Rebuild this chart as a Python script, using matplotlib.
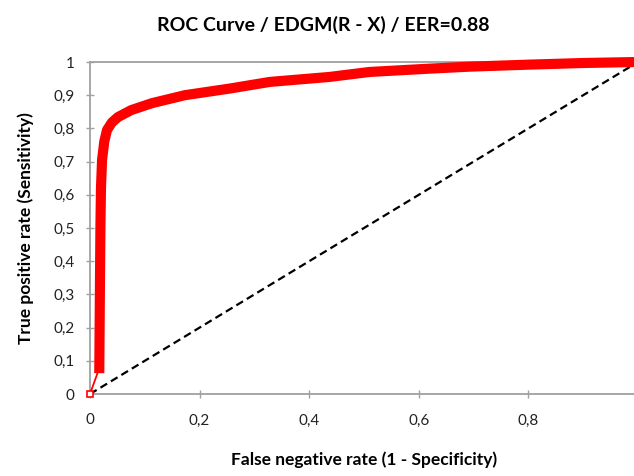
import matplotlib
matplotlib.use("Agg")
import matplotlib.pyplot as plt

# ROC curve points (x = 1 - specificity, y = sensitivity)
roc_x = [0.017, 0.018, 0.019, 0.020, 0.022, 0.026, 0.031, 0.040, 0.051, 0.075, 0.113,
         0.173, 0.255, 0.328, 0.437, 0.510, 0.620, 0.693, 0.800, 0.900, 1.000]
roc_y = [0.078, 0.300, 0.500, 0.620, 0.705, 0.760, 0.795, 0.818, 0.834, 0.855, 0.876,
         0.900, 0.920, 0.940, 0.955, 0.970, 0.980, 0.986, 0.992, 0.997, 1.000]
# first (thin) segment from the origin to the first threshold
start_x = [0.0, 0.017]
start_y = [0.0, 0.078]
diag = [0.0, 1.0]

x_ticks = [0, 0.2, 0.4, 0.6, 0.8]
x_labels = ["0", "0,2", "0,4", "0,6", "0,8"]
y_ticks = [i / 10 for i in range(11)]
y_labels = ["0"] + [f"0,{i}" for i in range(1, 10)] + ["1"]

RED, GRAY = "#ff0000", "#a0a0a0"
plt.rcParams["font.family"] = ["Lato", "DejaVu Sans"]

fig = plt.figure(figsize=(6.34, 4.76), dpi=100)
ax = fig.add_axes([90 / 634, 82 / 476, 548 / 634, 332 / 476])

ax.plot(diag, diag, color="black", lw=1.6, ls=(0, (3.5, 2)), zorder=2)
ax.plot(start_x, start_y, color=RED, lw=1.3, zorder=3)
ax.plot(roc_x, roc_y, color=RED, lw=7.3, solid_joinstyle="round", zorder=4, clip_on=False)
ax.plot([0], [0], marker="s", ms=5, mfc="white", mec=RED, mew=1.2, zorder=5, clip_on=False)

ax.set_xlim(0, 1)
ax.set_ylim(0, 1)
ax.set_xticks(x_ticks, x_labels)
ax.set_yticks(y_ticks, y_labels)
ax.tick_params(direction="inout", length=6, width=1, color=GRAY, labelsize=11, labelcolor="#222222")
ax.tick_params(axis="y", pad=8)
ax.tick_params(axis="x", pad=11)
for s in ["left", "bottom", "top"]:
    ax.spines[s].set_color(GRAY)
    ax.spines[s].set_linewidth(1.3)
ax.spines["right"].set_visible(False)

ax.set_xlabel("False negative rate (1 - Specificity)", fontsize=12.5, fontweight="bold", labelpad=17)
ax.set_ylabel("True positive rate (Sensitivity)", fontsize=12.5, fontweight="bold", labelpad=14)
fig.text(323 / 634, 1 - 25 / 476, "ROC Curve / EDGM(R - X) / EER=0.88", ha="center", va="center",
         fontsize=14, fontweight="bold")

fig.savefig("out.png", dpi=100)
